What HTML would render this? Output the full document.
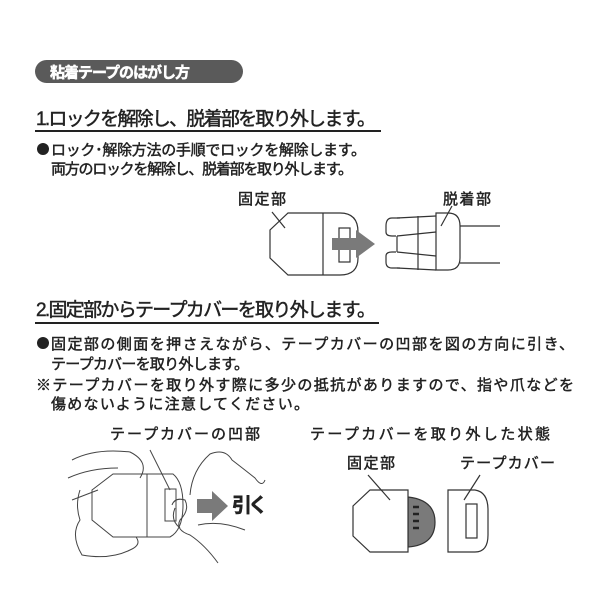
<!DOCTYPE html>
<html><head><meta charset="utf-8"><style>
html,body{margin:0;padding:0;background:#fff;width:600px;height:600px;overflow:hidden}
text{font-family:"Liberation Sans","Noto Sans CJK JP",sans-serif;fill:#222;stroke:#222;stroke-width:0.45}
</style></head><body>
<svg width="600" height="600" viewBox="0 0 600 600" xmlns="http://www.w3.org/2000/svg">
<rect x="35" y="60" width="208" height="23" rx="11.5" fill="#5a5a5a"/>
<text x="50" y="77.5" font-size="15" font-weight="bold" style="fill:#fff;stroke:#fff;stroke-width:0.5" textLength="140">粘着テープのはがし方</text>

<text x="36" y="125" font-size="19" textLength="340">1.ロックを解除し、脱着部を取り外します。</text>
<rect x="35" y="130" width="346" height="2" fill="#222"/>
<circle cx="43" cy="149" r="6" fill="#222"/>
<text x="51" y="155" font-size="15" textLength="315">ロック･解除方法の手順でロックを解除します。</text>
<text x="51" y="174" font-size="15" textLength="302">両方のロックを解除し、脱着部を取り外します。</text>

<text x="238" y="204" font-size="15" textLength="48">固定部</text>
<text x="443" y="204" font-size="15" textLength="48">脱着部</text>
<g fill="none" stroke="#333" stroke-width="1.2">
<line x1="272" y1="212" x2="285" y2="228"/>
<path d="M288 213 L340 213 Q358 213 358 232 L358 258 Q358 275 340 275 L288 275 L270 258 L270 230 Z"/>
<line x1="323" y1="213" x2="323" y2="275"/>
<rect x="339" y="228" width="11" height="34"/>
<path d="M400 218 L392 218 Q386 218 386 226 L386 232 Q386 236 392 236 L396 236"/>
<path d="M400 268 L392 268 Q386 268 386 262 L386 256 Q386 252 392 252 L396 252"/>
<path d="M397 218 L436 216 M397 268 L436 270 M397 236 L397 252 M397 236 L436 232 M397 252 L436 256"/>
<line x1="418" y1="216" x2="418" y2="270"/>
<path d="M436 213 L448 213 Q460 213 460 226 L460 258 Q460 270 448 270 L436 270 Z"/>
<path d="M460 226 L500 226 M460 263 L500 263"/>
<line x1="452" y1="206" x2="441" y2="226"/>
</g>
<polygon points="332,238 356,238 356,230 375,244 356,258 356,250 332,250" fill="#7a7a7a"/>

<text x="36" y="316" font-size="19" textLength="340">2.固定部からテープカバーを取り外します。</text>
<rect x="35" y="322" width="344" height="2" fill="#222"/>
<circle cx="43" cy="343" r="6" fill="#222"/>
<text x="51" y="349" font-size="15" textLength="523">固定部の側面を押さえながら、テープカバーの凹部を図の方向に引き、</text>
<text x="51" y="369" font-size="15" textLength="198">テープカバーを取り外します。</text>
<text x="36" y="390" font-size="15" textLength="538">※テープカバーを取り外す際に多少の抵抗がありますので、指や爪などを</text>
<text x="51" y="409" font-size="15" textLength="258">傷めないように注意してください。</text>

<text x="110" y="439" font-size="15" textLength="150">テープカバーの凹部</text>
<text x="310" y="439" font-size="15" textLength="240">テープカバーを取り外した状態</text>
<text x="347" y="468" font-size="15" textLength="48">固定部</text>
<text x="460" y="468" font-size="15" textLength="95">テープカバー</text>
<text x="232" y="512" font-size="20" font-weight="bold" textLength="36">引く</text>

<g fill="none" stroke="#444" stroke-width="1">
<path d="M72 460 Q95 448 130 452 Q150 462 140 478"/>
<path d="M68 478 Q90 468 118 468"/>
<path d="M80 490 Q75 505 80 520 Q70 535 82 555 Q110 560 130 550 Q142 545 136 537"/>
<path d="M72 500 L98 490"/>
<path d="M92 490 L113 474 L173 474 Q183 482 183 505 Q183 530 170 537 L113 537 L92 520 Z"/>
<line x1="147" y1="474" x2="147" y2="537"/>
<rect x="165" y="489" width="11" height="32"/>
<line x1="150" y1="450" x2="170" y2="490"/>
<path d="M190 495 Q192 470 210 454 Q225 448 232 460 Q245 470 255 478 Q262 488 265 480"/>
<path d="M172 505 Q175 497 185 500 Q190 510 180 520 Q175 530 190 535 Q205 545 218 563"/>
<path d="M175 508 Q170 520 180 528"/>
<path d="M198 525 Q220 520 245 530"/>
</g>
<polygon points="197,499 212,499 212,491 228,506 212,521 212,513 197,513" fill="#7a7a7a"/>

<g fill="none" stroke="#333" stroke-width="1.2">
<path d="M408 497 Q435 500 435 522 Q435 545 408 547 Z" fill="#7a7a7a" stroke="#333"/>
<path d="M413 507 h6 M413 514 h6 M413 521 h6 M413 528 h6" stroke="#222" stroke-width="2.5"/>
<path d="M370 490 L408 490 L408 552 L370 552 L353 536 L353 506 Z" fill="#fff"/>
<line x1="368" y1="475" x2="390" y2="500"/>
<path d="M448 490 L475 490 Q488 492 488 510 L488 535 Q488 552 475 552 L448 552 Z"/>
<rect x="466" y="504" width="11" height="34"/>
<line x1="480" y1="475" x2="464" y2="500"/>
</g>
</svg>
</body></html>
